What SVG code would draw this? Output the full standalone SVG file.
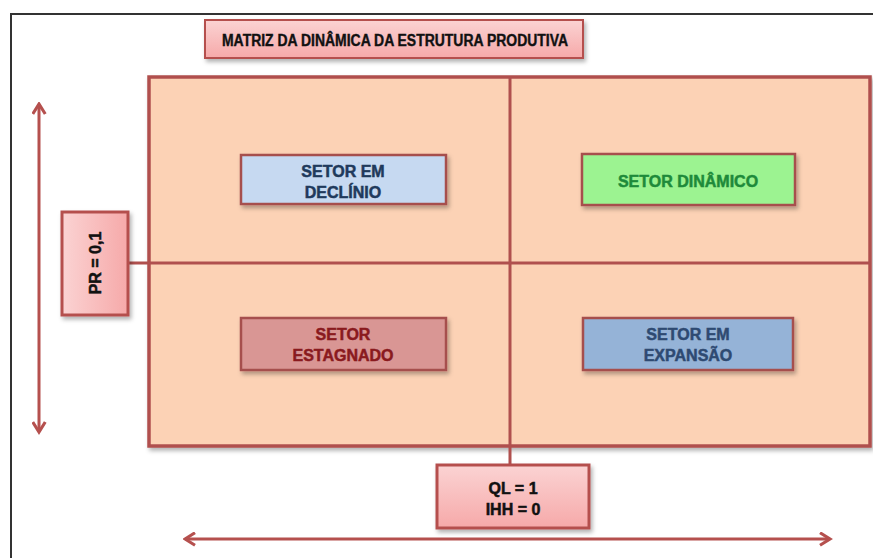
<svg xmlns="http://www.w3.org/2000/svg" width="873" height="558" viewBox="0 0 873 558">
<defs>
<style>
.lbl{font-family:"Liberation Sans",Arial,sans-serif;font-weight:bold;text-anchor:middle;stroke-width:0.5;}
.box{stroke:#A6504D;stroke-width:2.5;}
.pink{fill:url(#pinkg);stroke:#B5504E;stroke-width:3;}
.ax{stroke:#B5504E;stroke-width:3;fill:none;}
</style>
<linearGradient id="pinkg" x1="0" y1="0" x2="0" y2="1">
<stop offset="0" stop-color="#FBD3D3"/>
<stop offset="1" stop-color="#F6A9A9"/>
</linearGradient>
<linearGradient id="pinkh" x1="0" y1="0" x2="1" y2="0">
<stop offset="0" stop-color="#FBD3D3"/>
<stop offset="1" stop-color="#F6A9A9"/>
</linearGradient>
<filter id="sh" x="-10%" y="-20%" width="125%" height="150%">
<feDropShadow dx="2" dy="3" stdDeviation="2" flood-color="#000" flood-opacity="0.3"/>
</filter>
<marker id="ah" viewBox="0 0 12 12" refX="10" refY="6" markerWidth="5" markerHeight="5" orient="auto-start-reverse" markerUnits="strokeWidth">
<polyline points="2,1 10,6 2,11" fill="none" stroke="#B5504E" stroke-width="2.5" stroke-linejoin="miter"/>
</marker>
</defs>
<rect width="873" height="558" fill="#FFFFFF"/>
<rect x="11" y="14" width="880" height="560" fill="none" stroke="#333" stroke-width="2"/>

<g id="title">
<rect x="205" y="20" width="378" height="38" fill="url(#pinkg)" stroke="#B5504E" stroke-width="2" filter="url(#sh)"/>
<text x="222" y="46" font-family="Liberation Sans,Arial,sans-serif" font-weight="bold" font-size="16" fill="#111" stroke="#111" stroke-width="0.4" textLength="346" lengthAdjust="spacingAndGlyphs">MATRIZ  DA DINÂMICA DA ESTRUTURA PRODUTIVA</text>
</g>

<g id="matrix">
<rect x="149" y="77" width="721" height="369" fill="#FCD2B5" stroke="#B0504E" stroke-width="3.5" filter="url(#sh)"/>
</g>

<g id="connectors">
<line x1="510" y1="77" x2="510" y2="465" stroke="#B0504E" stroke-width="3"/>
<line x1="128" y1="263" x2="870" y2="263" stroke="#B0504E" stroke-width="3"/>
<line class="ax" x1="39" y1="104" x2="39" y2="432" marker-start="url(#ah)" marker-end="url(#ah)"/>
<line class="ax" x1="185" y1="539" x2="830" y2="539" marker-start="url(#ah)" marker-end="url(#ah)"/>
</g>

<g id="declinio">
<rect class="box" x="241" y="155" width="205" height="49" fill="#C6D9F1" filter="url(#sh)"/>
<text class="lbl" x="343" y="177" font-size="16" fill="#1F3A5C" stroke="#1F3A5C">SETOR EM</text>
<text class="lbl" x="343" y="198" font-size="16" fill="#1F3A5C" stroke="#1F3A5C">DECLÍNIO</text>
</g>

<g id="dinamico">
<rect class="box" x="582" y="154" width="213" height="51" fill="#9CF391" filter="url(#sh)"/>
<text class="lbl" x="688" y="187" font-size="16" fill="#1E8A3A" stroke="#1E8A3A">SETOR DINÂMICO</text>
</g>

<g id="estagnado">
<rect class="box" x="241" y="318" width="205" height="52" fill="#D99694" filter="url(#sh)"/>
<text class="lbl" x="343" y="340" font-size="16" fill="#8A1A1E" stroke="#8A1A1E">SETOR</text>
<text class="lbl" x="343" y="361" font-size="16" fill="#8A1A1E" stroke="#8A1A1E">ESTAGNADO</text>
</g>

<g id="expansao">
<rect class="box" x="583" y="318" width="210" height="52" fill="#95B3D7" filter="url(#sh)"/>
<text class="lbl" x="688" y="340" font-size="16" fill="#2E4A72" stroke="#2E4A72">SETOR EM</text>
<text class="lbl" x="688" y="361" font-size="16" fill="#2E4A72" stroke="#2E4A72">EXPANSÃO</text>
</g>

<g id="pr">
<rect x="62" y="212" width="66" height="103" fill="url(#pinkh)" stroke="#B5504E" stroke-width="3" filter="url(#sh)"/>
<text class="lbl" x="0" y="0" font-size="16" fill="#111" stroke="#111" transform="translate(101,263) rotate(-90)">PR = 0,1</text>
</g>

<g id="ql">
<rect class="pink" x="437" y="465" width="152" height="63" filter="url(#sh)"/>
<text class="lbl" x="513" y="494" font-size="16" fill="#111" stroke="#111">QL = 1</text>
<text class="lbl" x="513" y="515" font-size="16" fill="#111" stroke="#111">IHH = 0</text>
</g>
</svg>
